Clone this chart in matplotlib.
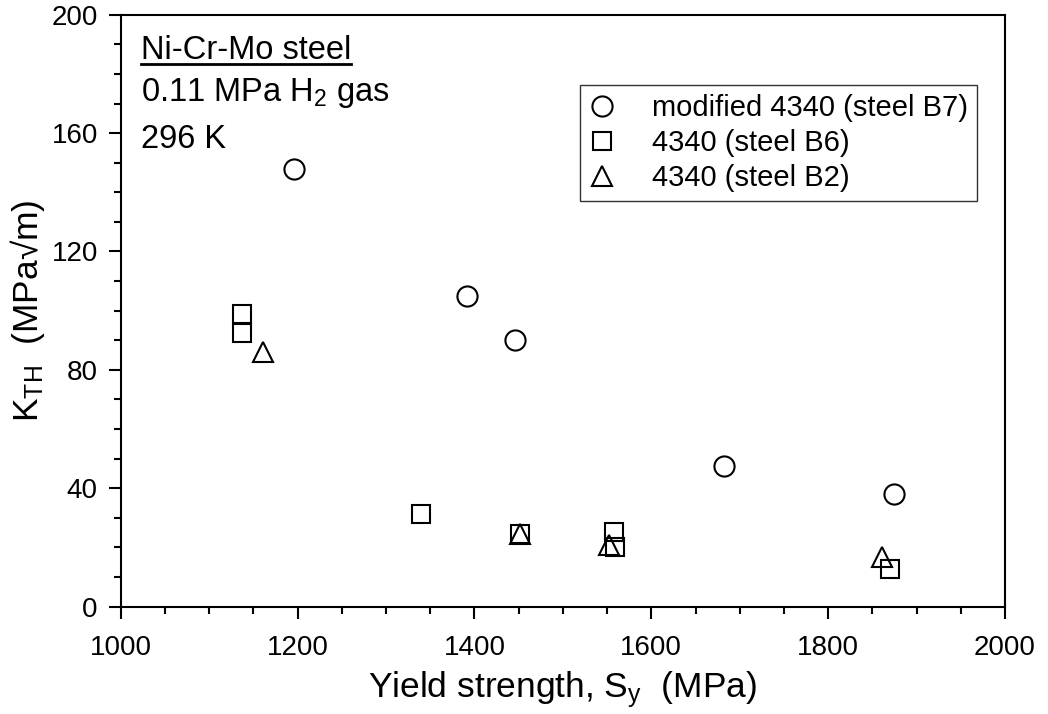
import matplotlib
matplotlib.use("Agg")
import matplotlib.pyplot as plt
from matplotlib.lines import Line2D
from matplotlib.ticker import MultipleLocator

plt.rcParams["font.family"] = ["Liberation Sans", "DejaVu Sans"]
plt.rcParams["mathtext.fontset"] = "custom"
plt.rcParams["mathtext.rm"] = "Liberation Sans"
plt.rcParams["mathtext.it"] = "Liberation Sans"

# modified 4340 (steel B7)
b7_sy = [1196, 1392, 1446, 1682, 1875]
b7_k = [148, 105, 90, 47.5, 38]
# 4340 (steel B6)
b6_sy = [1137, 1137, 1339, 1452, 1558, 1559, 1870]
b6_k = [98.8, 92.4, 31.3, 24.6, 25.3, 20.3, 12.6]
# 4340 (steel B2)
b2_sy = [1161, 1452, 1552, 1861]
b2_k = [86, 24.5, 20.8, 16.7]

labels = ["modified 4340 (steel B7)", "4340 (steel B6)", "4340 (steel B2)"]

fig = plt.figure(figsize=(10.48, 7.14), dpi=100)
ax = fig.add_axes([0.1152, 0.1503, 0.8438, 0.8291])

mk = dict(linestyle="none", markerfacecolor="none", markeredgecolor="black", markeredgewidth=1.5)
ax.plot(b7_sy, b7_k, marker="o", markersize=14.5, label=labels[0], **mk)
ax.plot(b6_sy, b6_k, marker="s", markersize=13, label=labels[1], **mk)
ax.plot(b2_sy, b2_k, marker="^", markersize=15, label=labels[2], **mk)

ax.set_xlim(1000, 2000)
ax.set_ylim(0, 200)
ax.xaxis.set_major_locator(MultipleLocator(200))
ax.xaxis.set_minor_locator(MultipleLocator(50))
ax.yaxis.set_major_locator(MultipleLocator(40))
ax.yaxis.set_minor_locator(MultipleLocator(10))
ax.tick_params(which="major", direction="out", length=8.5, width=1.5, labelsize=20)
ax.tick_params(axis="x", which="major", pad=12)
ax.tick_params(axis="y", which="major", pad=8)
ax.tick_params(which="minor", direction="out", length=5, width=1.5)
for s in ax.spines.values():
    s.set_linewidth(1.5)

ax.set_xlabel("Yield strength, S$_\\mathrm{y}$  (MPa)", fontsize=25.5, labelpad=6)
ax.set_ylabel("K$_\\mathrm{TH}$  (MPa\u221am)", fontsize=25.5, labelpad=3)

title = ax.text(1022.6, 185, "Ni-Cr-Mo steel", fontsize=23.5, ha="left", va="baseline")
ax.text(1022.6, 171, "0.11 MPa H$_2$ gas", fontsize=23.5, ha="left", va="baseline")
ax.text(1022.6, 154.9, "296 K", fontsize=23.5, ha="left", va="baseline")

leg = ax.legend(loc="upper right", bbox_to_anchor=(0.968, 0.881), borderaxespad=0,
                fontsize=21, frameon=True, fancybox=False, edgecolor="black",
                handlelength=0.9, handletextpad=1.26, labelspacing=0.25,
                borderpad=0.3)
leg.get_frame().set_linewidth(1.0)

# underline for the title text
fig.canvas.draw()
bb = title.get_window_extent()
yline = bb.y0 + 2
fig.add_artist(Line2D([bb.x0, bb.x1], [yline, yline], transform=None, color="black", linewidth=2))

fig.savefig("out.png", dpi=100)
